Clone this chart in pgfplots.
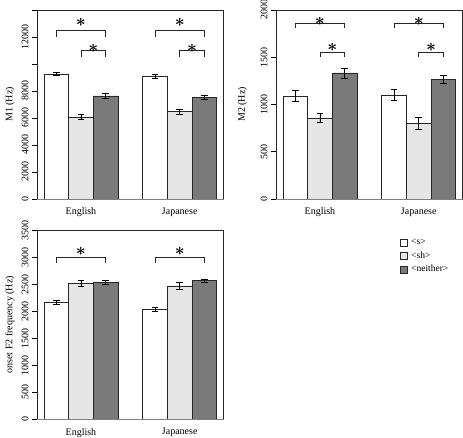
\documentclass[border=0pt]{standalone}
\usepackage{fontspec}
\setmainfont{Liberation Serif}
\usepackage{pgfplots}
\pgfplotsset{compat=1.18}
\definecolor{lightbar}{HTML}{E6E6E6}
\definecolor{darkbar}{HTML}{7A7A7A}
\tikzset{sigstar/.style={font=\LARGE\boldmath, inner sep=0pt}}
\pgfplotsset{
  rbar/.style={
    scale only axis, width=186.7pt, height=189pt,
    xmin=0.72, xmax=8.28, ymin=0,
    xtick={2.5,6.5}, xticklabels={English,Japanese},
    x tick style={draw=none},
    tick align=outside, ytick pos=left, xtick pos=bottom,
    major tick length=5pt,
    y tick style={black, line width=0.5pt},
    yticklabel style={rotate=90, anchor=south, font=\fontsize{10}{12}\selectfont},
    xticklabel style={yshift=-0.5pt, font=\fontsize{10}{12}\selectfont},
    axis line style={black!85, line width=0.6pt},
    scaled y ticks=false,
    /pgf/number format/assume math mode=true,
    /pgf/number format/1000 sep={},
    every axis y label/.style={at={(axis description cs:-0.145,0.5)}, rotate=90, anchor=center, font=\fontsize{10}{12}\selectfont},
    clip=false,
  },
  bars/.style={ybar, bar width=1, bar shift=0pt, draw=black!85, line width=0.6pt,
    error bars/y dir=both, error bars/y explicit,
    error bars/error bar style={black, line width=0.6pt},
    error bars/error mark options={rotate=90, mark size=3.3pt, line width=0.6pt, black}},
  brk/.style={black!85, line width=0.6pt, forget plot},
}
\begin{document}
\begin{tikzpicture}
\useasboundingbox (0,0) rectangle (463pt,438pt);

% Panel 1: M1
\begin{axis}[rbar, at={(37pt,239pt)}, anchor=south west,
  ymax=14000, ytick={0,2000,4000,6000,8000,10000,12000,14000},
  yticklabels={0,2000,4000,6000,8000,,12000,},
  ylabel={M1 (Hz)}]
\addplot[bars, fill=white, forget plot] coordinates {(1.5,9250) +- (0,120) (5.5,9100) +- (0,160)};
\addplot[bars, fill=lightbar, forget plot] coordinates {(2.5,6070) +- (0,185) (6.5,6480) +- (0,185)};
\addplot[bars, fill=darkbar, forget plot] coordinates {(3.5,7640) +- (0,185) (7.5,7520) +- (0,150)};
\addplot[brk] coordinates {(1.5,12000) (1.5,12500) (3.5,12500) (3.5,12000)};
\addplot[brk] coordinates {(2.5,10500) (2.5,11000) (3.5,11000) (3.5,10500)};
\addplot[brk] coordinates {(5.5,12000) (5.5,12500) (7.5,12500) (7.5,12000)};
\addplot[brk] coordinates {(6.5,10500) (6.5,11000) (7.5,11000) (7.5,10500)};
\node[sigstar] at (axis cs:2.5,13086) {$\ast$};
\node[sigstar] at (axis cs:3.0,11160) {$\ast$};
\node[sigstar] at (axis cs:6.5,13086) {$\ast$};
\node[sigstar] at (axis cs:7.0,11160) {$\ast$};
\addplot[gray, line width=0.7pt, forget plot] coordinates {(0.72,0) (8.28,0)};
\end{axis}

% Panel 2: M2
\begin{axis}[rbar, at={(276pt,239pt)}, anchor=south west,
  ymax=2000, ytick={0,500,1000,1500,2000},
  ylabel={M2 (Hz)},
  every axis y label/.style={at={(axis description cs:-0.18,0.5)}, rotate=90, anchor=center, font=\fontsize{10}{12}\selectfont}]
\addplot[bars, fill=white, forget plot] coordinates {(1.5,1088) +- (0,57) (5.5,1102) +- (0,57)};
\addplot[bars, fill=lightbar, forget plot] coordinates {(2.5,858) +- (0,44) (6.5,802) +- (0,60)};
\addplot[bars, fill=darkbar, forget plot] coordinates {(3.5,1334) +- (0,53) (7.5,1268) +- (0,41)};
\addplot[brk] coordinates {(1.5,1813) (1.5,1859) (3.5,1859) (3.5,1813)};
\addplot[brk] coordinates {(2.5,1502) (2.5,1555) (3.5,1555) (3.5,1502)};
\addplot[brk] coordinates {(5.5,1813) (5.5,1859) (7.5,1859) (7.5,1813)};
\addplot[brk] coordinates {(6.5,1502) (6.5,1555) (7.5,1555) (7.5,1502)};
\node[sigstar] at (axis cs:2.5,1883) {$\ast$};
\node[sigstar] at (axis cs:3.0,1608) {$\ast$};
\node[sigstar] at (axis cs:6.5,1883) {$\ast$};
\node[sigstar] at (axis cs:7.0,1608) {$\ast$};
\addplot[gray, line width=0.7pt, forget plot] coordinates {(0.72,0) (8.28,0)};
\end{axis}

% Panel 3: onset F2
\begin{axis}[rbar, at={(37pt,18.7pt)}, anchor=south west,
  ymax=3500, ytick={0,500,1000,1500,2000,2500,3000,3500},
  ylabel={onset F2 frequency (Hz)},
  legend image code/.code={\draw[#1] (0pt,-3.5pt) rectangle (7pt,3.5pt);},
  legend style={at={(1.925,0.975)}, anchor=north west, draw=none, fill=none,
    font=\fontsize{9.5}{11}\selectfont, row sep=1.5pt,
    nodes={inner xsep=4pt}},
  legend cell align=left]
\addplot[bars, fill=white, forget plot] coordinates {(1.5,2164) +- (0,40) (5.5,2034) +- (0,37)};
\addplot[bars, fill=lightbar, forget plot] coordinates {(2.5,2515) +- (0,59) (6.5,2472) +- (0,59)};
\addplot[bars, fill=darkbar, forget plot] coordinates {(3.5,2534) +- (0,37) (7.5,2565) +- (0,31)};
\addplot[brk] coordinates {(1.5,2898) (1.5,3009) (3.5,3009) (3.5,2898)};
\addplot[brk] coordinates {(5.5,2898) (5.5,3009) (7.5,3009) (7.5,2898)};
\node[sigstar] at (axis cs:2.5,3101) {$\ast$};
\node[sigstar] at (axis cs:6.5,3101) {$\ast$};
\addplot[gray, line width=0.7pt, forget plot] coordinates {(0.72,0) (8.28,0)};
\addlegendimage{fill=white, draw=black!85, line width=0.6pt}
\addlegendentry{\textless s\textgreater}
\addlegendimage{fill=lightbar, draw=black!85, line width=0.6pt}
\addlegendentry{\textless sh\textgreater}
\addlegendimage{fill=darkbar, draw=black!85, line width=0.6pt}
\addlegendentry{\textless neither\textgreater}
\end{axis}
\end{tikzpicture}
\end{document}
